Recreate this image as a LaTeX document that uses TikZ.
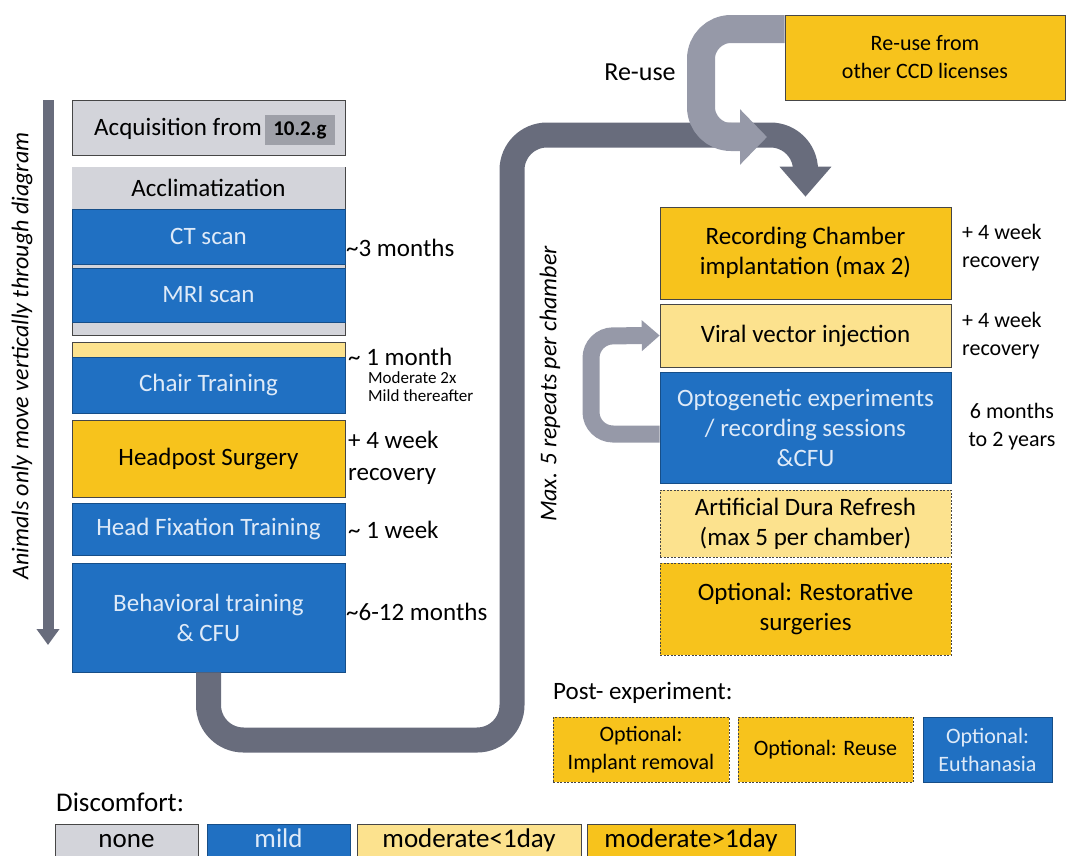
\documentclass[tikz,border=0pt]{standalone}
\usepackage{fontspec}
\setmainfont{Carlito}
\usetikzlibrary{arrows.meta}

\definecolor{nonegray}{RGB}{211,212,218}
\definecolor{hlgray}{RGB}{158,160,168}
\definecolor{mildblue}{RGB}{32,112,194}
\definecolor{bluetext}{RGB}{222,234,248}
\definecolor{modyellow}{RGB}{252,226,142}
\definecolor{sevyellow}{RGB}{247,195,28}
\definecolor{arrowdark}{RGB}{104,108,124}
\definecolor{arrowlight}{RGB}{150,153,168}

\tikzset{
  stage/.style={draw=gray!55!black, line width=0.6pt, inner sep=2pt, align=center,
    font=\fontsize{25}{30}\selectfont},
  nonebox/.style={stage, fill=nonegray, text=black},
  mildbox/.style={stage, fill=mildblue, draw=mildblue!70!black, text=bluetext},
  modbox/.style={stage, fill=modyellow, text=black},
  sevbox/.style={stage, fill=sevyellow, text=black},
  optbox/.style={dashed, dash pattern=on 2pt off 1.5pt},
  leftcol/.style={minimum width=273},
  rightcol/.style={minimum width=291},
  legendbox/.style={minimum height=34, text height=19, text depth=6,
    font=\fontsize{27}{30}\selectfont},
  note/.style={anchor=west, align=left, inner sep=0pt, font=\fontsize{25}{30}\selectfont},
  rnote/.style={align=left, inner sep=0pt, font=\fontsize{22}{28}\selectfont},
  bigarrow/.style={draw=arrowdark, line width=25pt, rounded corners=35pt,
    -{Triangle[width=50pt,length=30pt]}},
  reusearrow/.style={draw=arrowlight, line width=28pt, rounded corners=30pt,
    -{Triangle[width=54pt,length=27pt]}},
  looparrow/.style={draw=arrowlight, line width=17pt, rounded corners=22pt,
    -{Triangle[width=30pt,length=18pt]}},
  flowarrow/.style={draw=arrowdark, line width=11pt, -{Triangle[width=22pt,length=16pt]}}
}

\begin{document}
\begin{tikzpicture}[x=1pt,y=-1pt]
\useasboundingbox (0,0) rectangle (1071,855);

% left column
\node[nonebox, leftcol, minimum height=55] (acq) at (208.5,127.5) {};
\node[note, anchor=east] (acqtext) at (262,129) {Acquisition from};
\node[fill=hlgray, inner sep=0pt, minimum width=70, minimum height=30,
  font=\bfseries\fontsize{21}{24}\selectfont] (acqbreed) at (300,130) {10.2.g};
\node[nonebox, leftcol, minimum height=168] (accgroup) at (208.5,251) {};
\node[nonebox, leftcol, minimum height=42, draw=none] (acclim) at (208.5,188) {Acclimatization};
\node[mildbox, leftcol, minimum height=55] (ct) at (208.5,236.5) {CT scan};
\node[mildbox, leftcol, minimum height=54] (mri) at (208.5,295) {MRI scan};
\node[modbox, leftcol, minimum height=15] (chairtop) at (208.5,349.5) {};
\node[mildbox, leftcol, minimum height=56] (chair) at (208.5,385) {Chair Training};
\node[sevbox, leftcol, minimum height=77] (head) at (208.5,458.5) {Headpost Surgery};
\node[mildbox, leftcol, minimum height=52] (fix) at (208.5,529) {Head Fixation Training};
\node[mildbox, leftcol, minimum height=109] (behav) at (208.5,617.5) {Behavioral training\\\& CFU};

\node[note] (ctdur) at (346,248) {\textasciitilde 3 months};
\node[note] (chairdur) at (348,357) {\textasciitilde{} 1 month};
\node[anchor=west, align=left, inner sep=0pt, font=\fontsize{17}{18}\selectfont] (chairsev) at (368,387) {Moderate 2x\\Mild thereafter};
\node[note, font=\fontsize{25}{32}\selectfont] (headdur) at (348,458) {+ 4 week\\recovery};
\node[note] (fixdur) at (348,530) {\textasciitilde{} 1 week};
\node[note] (behavdur) at (346,612) {\textasciitilde 6-12 months};

\coordinate (flowtop) at (48,100);
\coordinate (flowend) at (48,645);
\draw[flowarrow] (flowtop) -- (flowend);
\node[rotate=90, inner sep=0pt, font=\itshape\fontsize{24}{28}\selectfont] (flowlbl) at (22,356) {Animals only move vertically through diagram};

% right column
\node[sevbox, rightcol, minimum height=92] (rec) at (805.5,253) {Recording Chamber\\implantation (max 2)};
\node[modbox, rightcol, minimum height=63] (viral) at (805.5,335.5) {Viral vector injection};
\node[mildbox, rightcol, minimum height=111] (opto) at (805.5,427.5) {Optogenetic experiments\\/ recording sessions\\\&CFU};
\node[modbox, optbox, rightcol, minimum height=67] (dura) at (805.5,523.5) {Artificial Dura Refresh\\(max 5 per chamber)};
\node[sevbox, optbox, rightcol, minimum height=92] (resto) at (805.5,609) {Optional: Restorative\\surgeries};

\node[rnote, anchor=west] (recdur) at (962,248) {+ 4 week\\recovery};
\node[rnote, anchor=west] (viraldur) at (962,335.5) {+ 4 week\\recovery};
\node[rnote, align=center] (optodur) at (1012,427) {6 months\\to 2 years};

\node[sevbox, minimum width=280, minimum height=85, font=\fontsize{22}{28}\selectfont] (reuse) at (925,57.5) {Re-use from\\other CCD licenses};
\node[inner sep=0pt, font=\fontsize{26}{30}\selectfont] (reuselbl) at (640,72) {Re-use};
\node[rotate=90, inner sep=0pt, font=\itshape\fontsize{24}{28}\selectfont] (repeatlbl) at (550,384) {Max. 5 repeats per chamber};

% post experiment
\node[note] (postlbl) at (553,693) {Post- experiment:};
\node[sevbox, optbox, minimum width=176, minimum height=65, font=\fontsize{22}{28}\selectfont] (implant) at (641,749.5) {Optional:\\Implant removal};
\node[sevbox, optbox, minimum width=175, minimum height=65, font=\fontsize{22}{28}\selectfont] (reuseopt) at (825.5,749.5) {Optional: Reuse};
\node[mildbox, minimum width=129, minimum height=65, font=\fontsize{22}{28}\selectfont] (euth) at (987.5,749.5) {Optional:\\Euthanasia};

% legend
\node[note, font=\fontsize{27}{30}\selectfont] (legendlbl) at (56,802) {Discomfort:};
\node[nonebox, legendbox, minimum width=143] (lgnone) at (126.5,841) {none};
\node[mildbox, legendbox, minimum width=143] (lgmild) at (278.5,841) {mild};
\node[modbox, legendbox, minimum width=224] (lgmodlow) at (469,841) {moderate<1day};
\node[sevbox, legendbox, minimum width=208] (lgmodhigh) at (691,841) {moderate>1day};

% arrows
\draw[bigarrow] (behav.south) |- (512,740) |- (805.5,135) -- ([yshift=10pt]rec.north);
\coordinate (reusetip) at (767,137);
\draw[reusearrow] ([yshift=28.5pt]reuse.west) -| (701,137) -- (reusetip);
\draw[looparrow] ([yshift=-6.5pt]opto.west) -| (591,336) -- (viral.west);
\end{tikzpicture}
\end{document}
